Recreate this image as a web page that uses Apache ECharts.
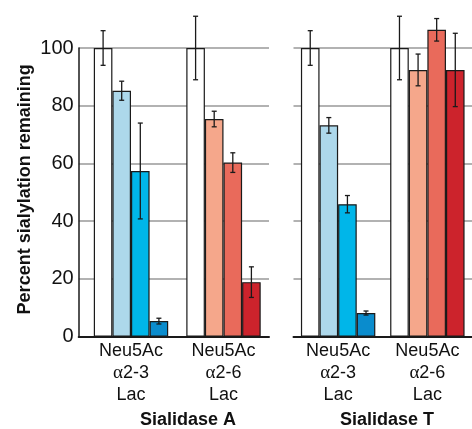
<!DOCTYPE html>
<html>
<head>
<meta charset="utf-8">
<script src="https://cdn.jsdelivr.net/npm/echarts@6/dist/echarts.min.js"></script>
<style>
  html, body { margin: 0; padding: 0; background: #fff; }
  #chart { width: 472px; height: 429px; }
</style>
</head>
<body>
<div id="chart"></div>
<script>
// categories (same for both enzymes)
const categories = ['Neu5Ac\nα2-3\nLac', 'Neu5Ac\nα2-6\nLac'];
const panels = ['Sialidase A', 'Sialidase T'];
const yTicks = [0, 20, 40, 60, 80, 100];

// Sialidase A: 4 bars per substrate (control -> most digested)
const sialA_1 = [100, 100];
const sialA_2 = [85.2, 75.4];
const sialA_3 = [57.4, 60.3];
const sialA_4 = [5.4, 18.9];
const sialA_err1 = [6, 11];
const sialA_err2 = [3.3, 2.7];
const sialA_err3 = [16.6, 3.4];
const sialA_err4 = [1, 5.3];

// Sialidase T
const sialT_1 = [100, 100];
const sialT_2 = [73.2, 92.4];
const sialT_3 = [45.9, 106.3];
const sialT_4 = [8.2, 92.4];
const sialT_err1 = [6, 11];
const sialT_err2 = [2.7, 5.5];
const sialT_err3 = [3, 3.9];
const sialT_err4 = [0.7, 12.7];

const valsA = [sialA_1, sialA_2, sialA_3, sialA_4];
const errsA = [sialA_err1, sialA_err2, sialA_err3, sialA_err4];
const valsT = [sialT_1, sialT_2, sialT_3, sialT_4];
const errsT = [sialT_err1, sialT_err2, sialT_err3, sialT_err4];

// colours: [alpha2-3 (blues), alpha2-6 (reds)] per bar
const palette = [
  ['#ffffff', '#add8eb', '#00b6e9', '#0a8ccd'],
  ['#ffffff', '#f5a78b', '#e96a5b', '#cc232c']
];
const FONT = 'Liberation Sans, Arial, sans-serif';
const BW = 18.6;
const INK = '#1a1a1a';

const chart = echarts.init(document.getElementById('chart'));

function barSeries(vals, axisIdx) {
  return vals.map((v, k) => ({
    type: 'bar',
    xAxisIndex: axisIdx,
    yAxisIndex: axisIdx,
    data: v,
    barWidth: BW,
    barGap: '0%',
    clip: false,
    z: 2,
    itemStyle: {
      color: p => palette[p.dataIndex][k],
      borderColor: INK,
      borderWidth: 1.2
    },
    silent: true
  }));
}

function errSeries(vals, errs, axisIdx) {
  const data = [];
  vals.forEach((v, k) => {
    v.forEach((y, i) => data.push([i, y, errs[k][i], k]));
  });
  return {
    type: 'custom',
    xAxisIndex: axisIdx,
    yAxisIndex: axisIdx,
    clip: false,
    z: 5,
    silent: true,
    encode: { x: 0, y: 1 },
    data: data,
    renderItem: (params, api) => {
      const cat = api.value(0), y = api.value(1), e = api.value(2), k = api.value(3);
      const x = api.coord([cat, y])[0] + (k - 1.5) * BW;
      const t = api.coord([cat, y + e])[1];
      const b = api.coord([cat, y - e])[1];
      const st = { stroke: INK, lineWidth: 1.3 };
      return {
        type: 'group',
        children: [
          { type: 'line', shape: { x1: x, y1: t, x2: x, y2: b }, style: st },
          { type: 'line', shape: { x1: x - 2.5, y1: t, x2: x + 2.5, y2: t }, style: st },
          { type: 'line', shape: { x1: x - 2.5, y1: b, x2: x + 2.5, y2: b }, style: st }
        ]
      };
    }
  };
}

const catLabel = {
  fontSize: 18, lineHeight: 22, color: '#111', margin: 3, fontFamily: FONT,
  formatter: v => v.replace('α', '{a|α}'),
  rich: { a: { fontFamily: 'Liberation Serif, DejaVu Serif, serif', fontSize: 19, lineHeight: 22, color: '#111' } }
};

const TOP = 48, HEIGHT = 288.7;
const yBase = {
  type: 'value', min: 0, max: 100, interval: 20,
  axisTick: { show: false }
};

chart.setOption({
  animation: false,
  textStyle: { fontFamily: FONT },
  grid: [
    { left: 78.7, top: TOP, width: 190.3, height: HEIGHT },   // left panel frame
    { left: 84.75, top: TOP, width: 185, height: HEIGHT },    // left panel bars
    { left: 293.5, top: TOP, width: 187, height: HEIGHT }     // right panel
  ],
  xAxis: [
    {
      gridIndex: 0, type: 'category', data: [''],
      axisLine: { lineStyle: { color: INK, width: 2 } },
      axisTick: { show: false }, axisLabel: { show: false }
    },
    {
      gridIndex: 1, type: 'category', data: categories,
      axisLine: { show: false }, axisTick: { show: false },
      axisLabel: catLabel
    },
    {
      gridIndex: 2, type: 'category', data: categories,
      axisLine: { lineStyle: { color: INK, width: 2 } },
      axisTick: { show: false },
      axisLabel: catLabel
    }
  ],
  yAxis: [
    Object.assign({}, yBase, {
      gridIndex: 0,
      name: 'Percent sialylation remaining',
      nameLocation: 'middle', nameRotate: 90, nameGap: 45,
      nameTextStyle: { fontSize: 18, fontWeight: 'bold', color: '#111', fontFamily: FONT, padding: [0, 0, 0, 6] },
      axisLine: { show: true, lineStyle: { color: INK, width: 1.5 } },
      axisLabel: {
        fontSize: 20, color: '#111', margin: 5, fontFamily: FONT,
        formatter: v => yTicks.indexOf(v) >= 0 ? String(v) : ''
      },
      splitLine: { lineStyle: { color: '#999', width: 1.5 } }
    }),
    Object.assign({}, yBase, {
      gridIndex: 1, axisLine: { show: false }, axisLabel: { show: false }, splitLine: { show: false }
    }),
    Object.assign({}, yBase, {
      gridIndex: 2, axisLine: { show: false }, axisLabel: { show: false },
      splitLine: { lineStyle: { color: '#999', width: 1.5 } }
    })
  ],
  graphic: [
    {
      type: 'text', left: 140, top: 411,
      style: { text: panels[0], font: 'bold 18px ' + FONT, fill: '#111' }
    },
    {
      type: 'text', left: 340, top: 411,
      style: { text: panels[1], font: 'bold 18px ' + FONT, fill: '#111' }
    }
  ],
  series: [].concat(
    barSeries(valsA, 1),
    [errSeries(valsA, errsA, 1)],
    barSeries(valsT, 2),
    [errSeries(valsT, errsT, 2)]
  )
});
</script>
</body>
</html>
